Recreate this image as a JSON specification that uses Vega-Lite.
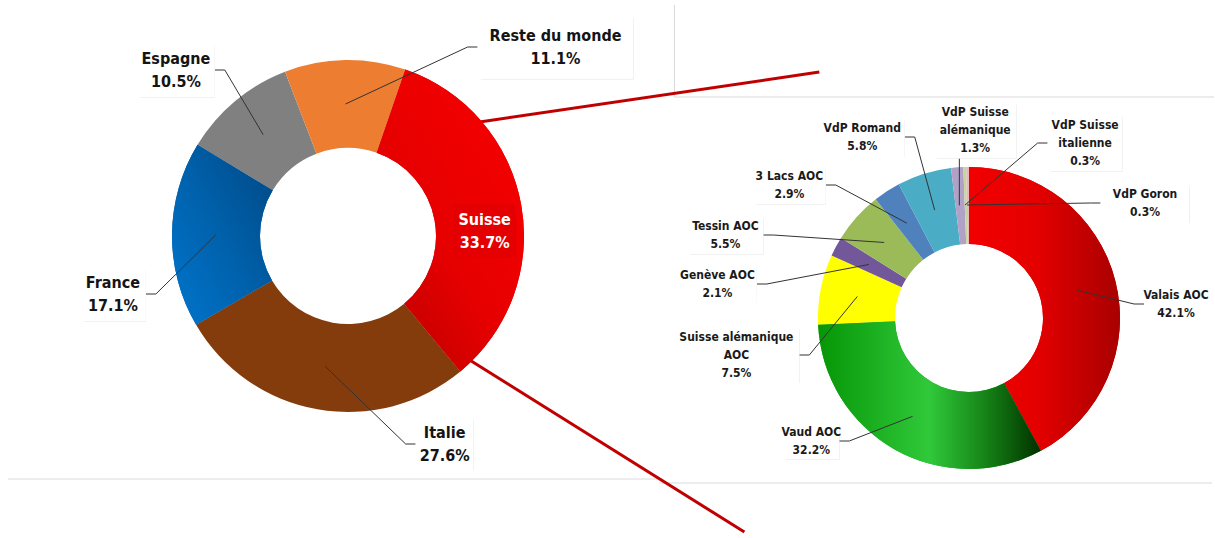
{
  "$schema": "https://vega.github.io/schema/vega-lite/v6.json",
  "width": 1215,
  "height": 538,
  "autosize": {"type": "fit", "contains": "padding"},
  "padding": 0,
  "background": "white",
  "config": {"view": {"stroke": null}},
  "datasets": {
    "monde": [
      {"cat": "Suisse", "part": 33.7},
      {"cat": "Italie", "part": 27.6},
      {"cat": "France", "part": 17.1},
      {"cat": "Espagne", "part": 10.5},
      {"cat": "Reste du monde", "part": 11.1}
    ],
    "suisse": [
      {"cat": "Valais AOC", "part": 42.1},
      {"cat": "Vaud AOC", "part": 32.2},
      {"cat": "Suisse alémanique AOC", "part": 7.5},
      {"cat": "Genève AOC", "part": 2.1},
      {"cat": "Tessin AOC", "part": 5.5},
      {"cat": "3 Lacs AOC", "part": 2.9},
      {"cat": "VdP Romand", "part": 5.8},
      {"cat": "VdP Suisse alémanique", "part": 1.3},
      {"cat": "VdP Suisse italienne", "part": 0.3},
      {"cat": "VdP Goron", "part": 0.3}
    ],
    "un": [{"n": 1}]
  },
  "layer": [
    {
      "data": {"name": "un"},
      "layer": [
        {
          "mark": {"type": "rule", "color": "#d9d9d9", "strokeWidth": 1},
          "encoding": {
            "x": {"datum": 8, "type": "quantitative", "axis": null, "scale": {"domain": [0, 1215], "nice": false, "zero": false}},
            "x2": {"datum": 663},
            "y": {"datum": 479, "type": "quantitative", "axis": null, "scale": {"domain": [0, 538], "nice": false, "zero": false, "reverse": true}},
            "y2": {"datum": 479}
          }
        },
        {
          "mark": {"type": "rule", "color": "#d9d9d9", "strokeWidth": 1},
          "encoding": {
            "x": {"datum": 675, "type": "quantitative", "axis": null, "scale": {"domain": [0, 1215], "nice": false, "zero": false}},
            "x2": {"datum": 675},
            "y": {"datum": 5, "type": "quantitative", "axis": null, "scale": {"domain": [0, 538], "nice": false, "zero": false, "reverse": true}},
            "y2": {"datum": 97}
          }
        },
        {
          "mark": {"type": "rule", "color": "#d9d9d9", "strokeWidth": 1},
          "encoding": {
            "x": {"datum": 675, "type": "quantitative", "axis": null, "scale": {"domain": [0, 1215], "nice": false, "zero": false}},
            "x2": {"datum": 1215},
            "y": {"datum": 97, "type": "quantitative", "axis": null, "scale": {"domain": [0, 538], "nice": false, "zero": false, "reverse": true}},
            "y2": {"datum": 97}
          }
        },
        {
          "mark": {"type": "rule", "color": "#d9d9d9", "strokeWidth": 1},
          "encoding": {
            "x": {"datum": 660, "type": "quantitative", "axis": null, "scale": {"domain": [0, 1215], "nice": false, "zero": false}},
            "x2": {"datum": 1213},
            "y": {"datum": 483, "type": "quantitative", "axis": null, "scale": {"domain": [0, 538], "nice": false, "zero": false, "reverse": true}},
            "y2": {"datum": 483}
          }
        },
        {
          "mark": {"type": "rule", "color": "#c00000", "strokeWidth": 3},
          "encoding": {
            "x": {"datum": 480, "type": "quantitative", "axis": null, "scale": {"domain": [0, 1215], "nice": false, "zero": false}},
            "x2": {"datum": 820},
            "y": {"datum": 122, "type": "quantitative", "axis": null, "scale": {"domain": [0, 538], "nice": false, "zero": false, "reverse": true}},
            "y2": {"datum": 72}
          }
        },
        {
          "mark": {"type": "rule", "color": "#c00000", "strokeWidth": 3},
          "encoding": {
            "x": {"datum": 470, "type": "quantitative", "axis": null, "scale": {"domain": [0, 1215], "nice": false, "zero": false}},
            "x2": {"datum": 745},
            "y": {"datum": 360, "type": "quantitative", "axis": null, "scale": {"domain": [0, 538], "nice": false, "zero": false, "reverse": true}},
            "y2": {"datum": 532}
          }
        }
      ]
    },
    {
      "data": {"name": "monde"},
      "transform": [
        {"stack": "part", "groupby": [], "as": ["s", "e"]},
        {"calculate": "PI/180*19 + PI*(datum.s + datum.e)/100", "as": "ang"},
        {"calculate": "348 + 132*sin(datum.ang)", "as": "ax"},
        {"calculate": "236 - 132*cos(datum.ang)", "as": "ay"},
        {"calculate": "[[485,231,62,54],[445,444,58,54],[113,294,66,55],[176,70,78,55],[556,47,156,65]][indexof(['Suisse','Italie','France','Espagne','Reste du monde'], datum.cat)]", "as": "box"},
        {"calculate": "datum.box[0]", "as": "bx"},
        {"calculate": "datum.box[1]", "as": "by"},
        {"calculate": "datum.box[0] - datum.box[2]/2", "as": "bl"},
        {"calculate": "datum.box[0] + datum.box[2]/2", "as": "br"},
        {"calculate": "datum.box[1] - datum.box[3]/2", "as": "bt"},
        {"calculate": "datum.box[1] + datum.box[3]/2", "as": "bb"},
        {"calculate": "datum.ax < datum.bl ? 'l' : datum.ax > datum.br ? 'r' : 'b'", "as": "side"},
        {"calculate": "datum.side == 'l' ? datum.bl : datum.side == 'r' ? datum.br : clamp(datum.ax, datum.bl + 8, datum.br - 8)", "as": "ex"},
        {"calculate": "datum.side == 'b' ? datum.bb : datum.by", "as": "ey"},
        {"calculate": "datum.side == 'l' ? datum.ex - 10 : datum.side == 'r' ? datum.ex + 10 : datum.ex", "as": "kx"},
        {"calculate": "datum.cat + '\\n' + format(datum.part, '.1f') + '%'", "as": "lab"},
        {"calculate": "datum.by - (length(split(datum.lab, '\\n')) - 1)*23/2", "as": "ty"}
      ],
      "layer": [
        {
          "mark": {"type": "arc", "x": 348, "y": 236, "radius": 176, "radius2": 88},
          "encoding": {
            "theta": {"field": "s", "type": "quantitative", "stack": null, "scale": {"domain": [0, 100], "range": [0.33161, 6.61479]}},
            "theta2": {"field": "e"},
            "color": {"field": "cat", "type": "nominal", "legend": null,
              "scale": {
                "domain": ["Suisse", "Italie", "France", "Espagne", "Reste du monde", "Valais AOC", "Vaud AOC", "Suisse alémanique AOC", "Genève AOC", "Tessin AOC", "3 Lacs AOC", "VdP Romand", "VdP Suisse alémanique", "VdP Suisse italienne", "VdP Goron"],
                "range": ["#e60000", "#843c0c", "#0066b3", "#808080", "#ed7d31", "#e00000", "#22b22a", "#ffff00", "#72589a", "#9bbb59", "#4f81bd", "#4bacc6", "#b2a1c7", "#c3d69b", "#e6b9b8"]
              }
            }
          }
        },
        {
          "transform": [{"filter": "datum.cat == 'Suisse'"}],
          "mark": {"type": "arc", "x": 348, "y": 236, "radius": 176, "radius2": 88,
            "color": {"gradient": "linear", "x1": 0.8, "y1": 0.15, "x2": 0.15, "y2": 0.95,
              "stops": [{"offset": 0, "color": "#f40000"}, {"offset": 0.55, "color": "#e60000"}, {"offset": 1, "color": "#bf0000"}]}},
          "encoding": {
            "theta": {"field": "s", "type": "quantitative", "stack": null, "scale": {"domain": [0, 100], "range": [0.33161, 6.61479]}},
            "theta2": {"field": "e"}
          }
        },
        {
          "transform": [{"filter": "datum.cat == 'France'"}],
          "mark": {"type": "arc", "x": 348, "y": 236, "radius": 176, "radius2": 88,
            "color": {"gradient": "linear", "x1": 0.9, "y1": 0.2, "x2": 0.1, "y2": 0.95,
              "stops": [{"offset": 0, "color": "#004f8f"}, {"offset": 0.5, "color": "#0062ad"}, {"offset": 1, "color": "#0072c8"}]}},
          "encoding": {
            "theta": {"field": "s", "type": "quantitative", "stack": null, "scale": {"domain": [0, 100], "range": [0.33161, 6.61479]}},
            "theta2": {"field": "e"}
          }
        },
        {
          "transform": [{"filter": "datum.cat != 'Suisse'"}],
          "mark": {"type": "rule", "color": "#333333", "strokeWidth": 1},
          "encoding": {
            "x": {"field": "ax", "type": "quantitative", "axis": null, "scale": {"domain": [0, 1215], "nice": false, "zero": false}},
            "y": {"field": "ay", "type": "quantitative", "axis": null, "scale": {"domain": [0, 538], "nice": false, "zero": false, "reverse": true}},
            "x2": {"field": "kx"},
            "y2": {"field": "ey"}
          }
        },
        {
          "transform": [{"filter": "datum.cat != 'Suisse'"}],
          "mark": {"type": "rule", "color": "#333333", "strokeWidth": 1},
          "encoding": {
            "x": {"field": "kx", "type": "quantitative", "axis": null, "scale": {"domain": [0, 1215], "nice": false, "zero": false}},
            "y": {"field": "ey", "type": "quantitative", "axis": null, "scale": {"domain": [0, 538], "nice": false, "zero": false, "reverse": true}},
            "x2": {"field": "ex"},
            "y2": {"field": "ey"}
          }
        },
        {
          "mark": {"type": "rect", "color": "#000000", "opacity": 0.1, "xOffset": 4.5, "yOffset": 4.5},
          "encoding": {
            "x": {"field": "bl", "type": "quantitative", "axis": null, "scale": {"domain": [0, 1215], "nice": false, "zero": false}},
            "x2": {"field": "br"},
            "y": {"field": "bt", "type": "quantitative", "axis": null, "scale": {"domain": [0, 538], "nice": false, "zero": false, "reverse": true}},
            "y2": {"field": "bb"}
          }
        },
        {
          "mark": {"type": "rect", "color": "#000000", "opacity": 0.13, "xOffset": 2.5, "yOffset": 2.5},
          "encoding": {
            "x": {"field": "bl", "type": "quantitative", "axis": null, "scale": {"domain": [0, 1215], "nice": false, "zero": false}},
            "x2": {"field": "br"},
            "y": {"field": "bt", "type": "quantitative", "axis": null, "scale": {"domain": [0, 538], "nice": false, "zero": false, "reverse": true}},
            "y2": {"field": "bb"}
          }
        },
        {
          "mark": {"type": "rect", "opacity": 1},
          "encoding": {
            "x": {"field": "bl", "type": "quantitative", "axis": null, "scale": {"domain": [0, 1215], "nice": false, "zero": false}},
            "x2": {"field": "br"},
            "y": {"field": "bt", "type": "quantitative", "axis": null, "scale": {"domain": [0, 538], "nice": false, "zero": false, "reverse": true}},
            "y2": {"field": "bb"},
            "color": {"condition": {"test": "datum.cat == 'Suisse'", "value": "#e40000"}, "value": "#ffffff"}
          }
        },
        {
          "mark": {"type": "text", "font": "DejaVu Sans Condensed", "fontWeight": "bold", "fontSize": 16, "lineHeight": 23, "lineBreak": "\n", "align": "center", "baseline": "middle"},
          "encoding": {
            "x": {"field": "bx", "type": "quantitative", "axis": null, "scale": {"domain": [0, 1215], "nice": false, "zero": false}},
            "y": {"field": "ty", "type": "quantitative", "axis": null, "scale": {"domain": [0, 538], "nice": false, "zero": false, "reverse": true}},
            "text": {"field": "lab"},
            "color": {"condition": {"test": "datum.cat == 'Suisse'", "value": "#ffffff"}, "value": "#141414"}
          }
        }
      ]
    },
    {
      "data": {"name": "suisse"},
      "transform": [
        {"stack": "part", "groupby": [], "as": ["s", "e"]},
        {"calculate": "PI*(datum.s + datum.e)/100", "as": "ang"},
        {"calculate": "969 + 113*sin(datum.ang)", "as": "ax"},
        {"calculate": "318 - 113*cos(datum.ang)", "as": "ay"},
        {"calculate": "[[1177,304,64,38],[812,441,56,37],[737,355,126,56],[718,284,79,38],[726,235,76,39],[790,185,73,39],[863,137,85,40],[976,130,83,57],[1086,143,75,57],[1146,203,89,40]][indexof(['Valais AOC','Vaud AOC','Suisse alémanique AOC','Genève AOC','Tessin AOC','3 Lacs AOC','VdP Romand','VdP Suisse alémanique','VdP Suisse italienne','VdP Goron'], datum.cat)]", "as": "box"},
        {"calculate": "datum.box[0]", "as": "bx"},
        {"calculate": "datum.box[1]", "as": "by"},
        {"calculate": "datum.box[0] - datum.box[2]/2", "as": "bl"},
        {"calculate": "datum.box[0] + datum.box[2]/2", "as": "br"},
        {"calculate": "datum.box[1] - datum.box[3]/2", "as": "bt"},
        {"calculate": "datum.box[1] + datum.box[3]/2", "as": "bb"},
        {"calculate": "datum.ax < datum.bl ? 'l' : datum.ax > datum.br ? 'r' : 'b'", "as": "side"},
        {"calculate": "datum.side == 'l' ? datum.bl : datum.side == 'r' ? datum.br : clamp(datum.ax, datum.bl + 8, datum.br - 8)", "as": "ex"},
        {"calculate": "datum.side == 'b' ? datum.bb : datum.by", "as": "ey"},
        {"calculate": "datum.side == 'l' ? datum.ex - 10 : datum.side == 'r' ? datum.ex + 10 : datum.ex", "as": "kx"},
        {"calculate": "(datum.cat == 'VdP Suisse alémanique' ? 'VdP Suisse\\nalémanique' : datum.cat == 'VdP Suisse italienne' ? 'VdP Suisse\\nitalienne' : datum.cat == 'Suisse alémanique AOC' ? 'Suisse alémanique\\nAOC' : datum.cat) + '\\n' + format(datum.part, '.1f') + '%'", "as": "lab"},
        {"calculate": "datum.by - (length(split(datum.lab, '\\n')) - 1)*18/2", "as": "ty"}
      ],
      "layer": [
        {
          "mark": {"type": "arc", "x": 969, "y": 318, "radius": 151, "radius2": 74},
          "encoding": {
            "theta": {"field": "s", "type": "quantitative", "stack": null, "scale": {"domain": [0, 100], "range": [0, 6.28319]}},
            "theta2": {"field": "e"},
            "color": {"field": "cat", "type": "nominal", "legend": null}
          }
        },
        {
          "transform": [{"filter": "datum.cat == 'Valais AOC'"}],
          "mark": {"type": "arc", "x": 969, "y": 318, "radius": 151, "radius2": 74,
            "color": {"gradient": "linear", "x1": 0, "y1": 0, "x2": 1, "y2": 0,
              "stops": [{"offset": 0, "color": "#f20000"}, {"offset": 0.45, "color": "#e40000"}, {"offset": 1, "color": "#a80000"}]}},
          "encoding": {
            "theta": {"field": "s", "type": "quantitative", "stack": null, "scale": {"domain": [0, 100], "range": [0, 6.28319]}},
            "theta2": {"field": "e"}
          }
        },
        {
          "transform": [{"filter": "datum.cat == 'Vaud AOC'"}],
          "mark": {"type": "arc", "x": 969, "y": 318, "radius": 151, "radius2": 74,
            "color": {"gradient": "linear", "x1": 0, "y1": 0, "x2": 1, "y2": 0,
              "stops": [{"offset": 0, "color": "#069606"}, {"offset": 0.5, "color": "#30c93a"}, {"offset": 0.78, "color": "#137a13"}, {"offset": 1, "color": "#003000"}]}},
          "encoding": {
            "theta": {"field": "s", "type": "quantitative", "stack": null, "scale": {"domain": [0, 100], "range": [0, 6.28319]}},
            "theta2": {"field": "e"}
          }
        },
        {
          "mark": {"type": "rule", "color": "#333333", "strokeWidth": 1},
          "encoding": {
            "x": {"field": "ax", "type": "quantitative", "axis": null, "scale": {"domain": [0, 1215], "nice": false, "zero": false}},
            "y": {"field": "ay", "type": "quantitative", "axis": null, "scale": {"domain": [0, 538], "nice": false, "zero": false, "reverse": true}},
            "x2": {"field": "kx"},
            "y2": {"field": "ey"}
          }
        },
        {
          "mark": {"type": "rule", "color": "#333333", "strokeWidth": 1},
          "encoding": {
            "x": {"field": "kx", "type": "quantitative", "axis": null, "scale": {"domain": [0, 1215], "nice": false, "zero": false}},
            "y": {"field": "ey", "type": "quantitative", "axis": null, "scale": {"domain": [0, 538], "nice": false, "zero": false, "reverse": true}},
            "x2": {"field": "ex"},
            "y2": {"field": "ey"}
          }
        },
        {
          "mark": {"type": "rect", "color": "#000000", "opacity": 0.1, "xOffset": 4, "yOffset": 4},
          "encoding": {
            "x": {"field": "bl", "type": "quantitative", "axis": null, "scale": {"domain": [0, 1215], "nice": false, "zero": false}},
            "x2": {"field": "br"},
            "y": {"field": "bt", "type": "quantitative", "axis": null, "scale": {"domain": [0, 538], "nice": false, "zero": false, "reverse": true}},
            "y2": {"field": "bb"}
          }
        },
        {
          "mark": {"type": "rect", "color": "#000000", "opacity": 0.13, "xOffset": 2, "yOffset": 2},
          "encoding": {
            "x": {"field": "bl", "type": "quantitative", "axis": null, "scale": {"domain": [0, 1215], "nice": false, "zero": false}},
            "x2": {"field": "br"},
            "y": {"field": "bt", "type": "quantitative", "axis": null, "scale": {"domain": [0, 538], "nice": false, "zero": false, "reverse": true}},
            "y2": {"field": "bb"}
          }
        },
        {
          "mark": {"type": "rect", "color": "#ffffff", "opacity": 1},
          "encoding": {
            "x": {"field": "bl", "type": "quantitative", "axis": null, "scale": {"domain": [0, 1215], "nice": false, "zero": false}},
            "x2": {"field": "br"},
            "y": {"field": "bt", "type": "quantitative", "axis": null, "scale": {"domain": [0, 538], "nice": false, "zero": false, "reverse": true}},
            "y2": {"field": "bb"}
          }
        },
        {
          "mark": {"type": "text", "font": "DejaVu Sans Condensed", "fontWeight": "bold", "fontSize": 12, "lineHeight": 18, "lineBreak": "\n", "align": "center", "baseline": "middle", "color": "#1a1a1a"},
          "encoding": {
            "x": {"field": "bx", "type": "quantitative", "axis": null, "scale": {"domain": [0, 1215], "nice": false, "zero": false}},
            "y": {"field": "ty", "type": "quantitative", "axis": null, "scale": {"domain": [0, 538], "nice": false, "zero": false, "reverse": true}},
            "text": {"field": "lab"}
          }
        }
      ]
    }
  ],
  "resolve": {"scale": {"theta": "independent"}}
}
